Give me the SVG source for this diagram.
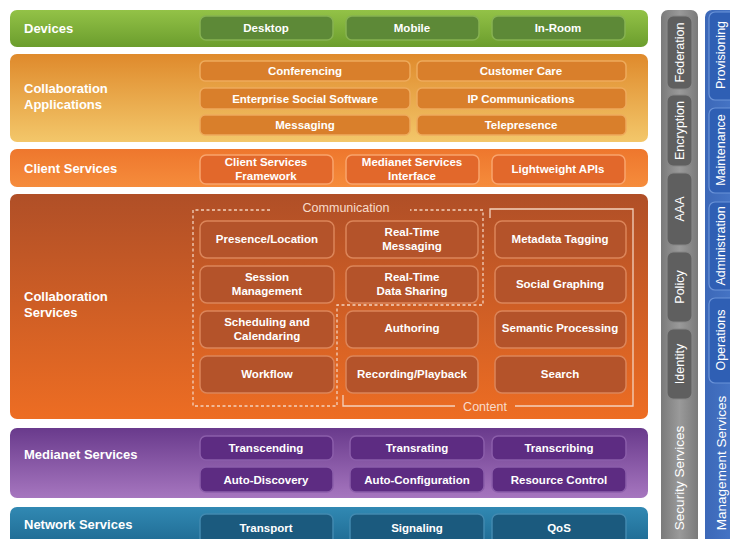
<svg xmlns="http://www.w3.org/2000/svg" width="730" height="539" viewBox="0 0 730 539">
<defs>
<linearGradient id="gDev" x1="0" y1="0" x2="0" y2="1"><stop offset="0" stop-color="#93c247"/><stop offset="1" stop-color="#6b9d2d"/></linearGradient>
<linearGradient id="gApp" x1="0" y1="0" x2="0" y2="1"><stop offset="0" stop-color="#df8a2c"/><stop offset="1" stop-color="#f3c76a"/></linearGradient>
<linearGradient id="gCli" x1="0" y1="0" x2="0" y2="1"><stop offset="0" stop-color="#ee772d"/><stop offset="1" stop-color="#f58c3c"/></linearGradient>
<linearGradient id="gCol" x1="0" y1="0" x2="0" y2="1"><stop offset="0" stop-color="#b04f27"/><stop offset="1" stop-color="#ed6d23"/></linearGradient>
<linearGradient id="gMed" x1="0" y1="0" x2="0" y2="1"><stop offset="0" stop-color="#693a8c"/><stop offset="1" stop-color="#a676bf"/></linearGradient>
<linearGradient id="gNet" x1="0" y1="0" x2="0" y2="1"><stop offset="0" stop-color="#3189b3"/><stop offset="1" stop-color="#1d6890"/></linearGradient>
<linearGradient id="gSec" x1="0" y1="0" x2="1" y2="0"><stop offset="0" stop-color="#7a7a7a"/><stop offset="0.5" stop-color="#9a9a9a"/><stop offset="1" stop-color="#7a7a7a"/></linearGradient>
<linearGradient id="gMan" x1="0" y1="0" x2="1" y2="0"><stop offset="0" stop-color="#3c68b8"/><stop offset="1" stop-color="#4a7acb"/></linearGradient>
</defs>
<style>
.lbl{font-family:"Liberation Sans",Arial,sans-serif;font-weight:bold;font-size:13px;fill:#fff}
.bt{font-family:"Liberation Sans",Arial,sans-serif;font-weight:bold;font-size:11.5px;fill:#fff;text-anchor:middle;dominant-baseline:central}
.vt{font-family:"Liberation Sans",Arial,sans-serif;font-size:12.5px;fill:#fff;text-anchor:middle;dominant-baseline:central}
.vl{font-family:"Liberation Sans",Arial,sans-serif;font-size:13.5px;fill:#fff;text-anchor:middle;dominant-baseline:central}
.gt{font-family:"Liberation Sans",Arial,sans-serif;font-size:12.5px;fill:#f8dccb;text-anchor:middle;dominant-baseline:central}
.dev{fill:#5d8937;stroke:#86b251;stroke-width:1.5}
.app{fill:#d97f2b;stroke:#eeab5c;stroke-width:1.5}
.cli{fill:#e2682b;stroke:#f9a46c;stroke-width:1.5}
.col{fill:#b4532a;stroke:#dc8559;stroke-width:1.5}
.med{fill:#5d2c82;stroke:#8b5daa;stroke-width:1.5}
.net{fill:#1b5a7e;stroke:#4289b0;stroke-width:1.5}
.sec{fill:#5f5f5f;stroke:#868686;stroke-width:1.2}
.man{fill:#2f5fb4;stroke:#6a93d8;stroke-width:1.2}
.dash{fill:none;stroke:#f3d2bd;stroke-width:1.3;stroke-dasharray:3 2.5}
.solid{fill:none;stroke:#f3d2bd;stroke-width:1.3}
</style>
<rect width="730" height="539" fill="#fff"/>

<g id="devices">
<rect x="10" y="10" width="638" height="37" rx="7" fill="url(#gDev)"/>
<text class="lbl" x="24" y="33">Devices</text>
<rect class="dev" x="200" y="16" width="133" height="24" rx="6"/><text class="bt" x="266" y="28">Desktop</text>
<rect class="dev" x="346" y="16" width="133" height="24" rx="6"/><text class="bt" x="412" y="28">Mobile</text>
<rect class="dev" x="492" y="16" width="133" height="24" rx="6"/><text class="bt" x="558" y="28">In-Room</text>
</g>

<g id="collab-apps">
<rect x="10" y="54" width="638" height="88" rx="7" fill="url(#gApp)"/>
<text class="lbl" x="24" y="93">Collaboration</text>
<text class="lbl" x="24" y="109">Applications</text>
<rect class="app" x="200" y="61" width="210" height="20" rx="5"/><text class="bt" x="305" y="71">Conferencing</text>
<rect class="app" x="417" y="61" width="209" height="20" rx="5"/><text class="bt" x="521" y="71">Customer Care</text>
<rect class="app" x="200" y="88" width="210" height="21" rx="5"/><text class="bt" x="305" y="99">Enterprise Social Software</text>
<rect class="app" x="417" y="88" width="209" height="21" rx="5"/><text class="bt" x="521" y="99">IP Communications</text>
<rect class="app" x="200" y="115" width="210" height="20" rx="5"/><text class="bt" x="305" y="125">Messaging</text>
<rect class="app" x="417" y="115" width="209" height="20" rx="5"/><text class="bt" x="521" y="125">Telepresence</text>
</g>

<g id="client-services">
<rect x="10" y="149" width="638" height="38" rx="7" fill="url(#gCli)"/>
<text class="lbl" x="24" y="173">Client Services</text>
<rect class="cli" x="200" y="155" width="133" height="29" rx="6"/><text class="bt" x="266" y="162">Client Services</text><text class="bt" x="266" y="176">Framework</text>
<rect class="cli" x="346" y="155" width="133" height="29" rx="6"/><text class="bt" x="412" y="162">Medianet Services</text><text class="bt" x="412" y="176">Interface</text>
<rect class="cli" x="492" y="155" width="133" height="29" rx="6"/><text class="bt" x="558" y="169">Lightweight APIs</text>
</g>

<g id="collab-services">
<rect x="10" y="194" width="638" height="225" rx="7" fill="url(#gCol)"/>
<text class="lbl" x="24" y="301">Collaboration</text>
<text class="lbl" x="24" y="317">Services</text>
<rect class="col" x="200" y="221" width="134" height="37" rx="7"/><text class="bt" x="267" y="239">Presence/Location</text>
<rect class="col" x="346" y="221" width="132" height="37" rx="7"/><text class="bt" x="412" y="232">Real-Time</text><text class="bt" x="412" y="246">Messaging</text>
<rect class="col" x="495" y="221" width="131" height="37" rx="7"/><text class="bt" x="560" y="239">Metadata Tagging</text>
<rect class="col" x="200" y="266" width="134" height="37" rx="7"/><text class="bt" x="267" y="277">Session</text><text class="bt" x="267" y="291">Management</text>
<rect class="col" x="346" y="266" width="132" height="37" rx="7"/><text class="bt" x="412" y="277">Real-Time</text><text class="bt" x="412" y="291">Data Sharing</text>
<rect class="col" x="495" y="266" width="131" height="37" rx="7"/><text class="bt" x="560" y="284">Social Graphing</text>
<rect class="col" x="200" y="311" width="134" height="37" rx="7"/><text class="bt" x="267" y="322">Scheduling and</text><text class="bt" x="267" y="336">Calendaring</text>
<rect class="col" x="346" y="311" width="132" height="37" rx="7"/><text class="bt" x="412" y="328">Authoring</text>
<rect class="col" x="495" y="311" width="131" height="37" rx="7"/><text class="bt" x="560" y="328">Semantic Processing</text>
<rect class="col" x="200" y="356" width="134" height="37" rx="7"/><text class="bt" x="267" y="374">Workflow</text>
<rect class="col" x="346" y="356" width="132" height="37" rx="7"/><text class="bt" x="412" y="374">Recording/Playback</text>
<rect class="col" x="495" y="356" width="131" height="37" rx="7"/><text class="bt" x="560" y="374">Search</text>
</g>

<g id="connectors">
<path class="dash" d="M270,210 H193 V406 H337 V305 H483 V210 H410"/>
<text class="gt" x="346" y="208">Communication</text>
<path class="solid" d="M490,218 V209 H633 V406 H515 M455,406 H343 V395"/>
<text class="gt" x="485" y="407">Content</text>
</g>

<g id="medianet-services">
<rect x="10" y="428" width="638" height="70" rx="7" fill="url(#gMed)"/>
<text class="lbl" x="24" y="459">Medianet Services</text>
<rect class="med" x="200" y="436" width="133" height="24" rx="6"/><text class="bt" x="266" y="448">Transcending</text>
<rect class="med" x="350" y="436" width="134" height="24" rx="6"/><text class="bt" x="417" y="448">Transrating</text>
<rect class="med" x="492" y="436" width="134" height="24" rx="6"/><text class="bt" x="559" y="448">Transcribing</text>
<rect class="med" x="200" y="467" width="133" height="25" rx="6"/><text class="bt" x="266" y="480">Auto-Discovery</text>
<rect class="med" x="350" y="467" width="134" height="25" rx="6"/><text class="bt" x="417" y="480">Auto-Configuration</text>
<rect class="med" x="492" y="467" width="134" height="25" rx="6"/><text class="bt" x="559" y="480">Resource Control</text>
</g>

<g id="network-services">
<rect x="10" y="507" width="638" height="40" rx="7" fill="url(#gNet)"/>
<text class="lbl" x="24" y="529">Network Services</text>
<rect class="net" x="200" y="514" width="133" height="30" rx="6"/><text class="bt" x="266" y="528">Transport</text>
<rect class="net" x="350" y="514" width="134" height="30" rx="6"/><text class="bt" x="417" y="528">Signaling</text>
<rect class="net" x="492" y="514" width="134" height="30" rx="6"/><text class="bt" x="559" y="528">QoS</text>
</g>

<g id="security-services">
<rect x="661" y="10" width="37" height="540" rx="7" fill="url(#gSec)"/>
<rect class="sec" x="667" y="16" width="25" height="73" rx="6"/><text class="vt" transform="translate(679.5,52.5) rotate(-90)">Federation</text>
<rect class="sec" x="667" y="95" width="25" height="71" rx="6"/><text class="vt" transform="translate(679.5,130.5) rotate(-90)">Encryption</text>
<rect class="sec" x="667" y="173" width="25" height="72" rx="6"/><text class="vt" transform="translate(679.5,209) rotate(-90)">AAA</text>
<rect class="sec" x="667" y="252" width="25" height="70" rx="6"/><text class="vt" transform="translate(679.5,287) rotate(-90)">Policy</text>
<rect class="sec" x="667" y="329" width="25" height="70" rx="6"/><text class="vt" transform="translate(679.5,364) rotate(-90)">Identity</text>
<text class="vl" transform="translate(679.5,478) rotate(-90)">Security Services</text>
</g>

<g id="management-services">
<rect x="705" y="10" width="40" height="540" rx="7" fill="url(#gMan)"/>
<rect class="man" x="709" y="12" width="30" height="88" rx="6"/><text class="vt" transform="translate(721,55) rotate(-90)">Provisioning</text>
<rect class="man" x="709" y="108" width="30" height="85" rx="6"/><text class="vt" transform="translate(721,150) rotate(-90)">Maintenance</text>
<rect class="man" x="709" y="202" width="30" height="88" rx="6"/><text class="vt" transform="translate(721,246) rotate(-90)">Administration</text>
<rect class="man" x="709" y="298" width="30" height="85" rx="6"/><text class="vt" transform="translate(721,340) rotate(-90)">Operations</text>
<text class="vl" transform="translate(721,463) rotate(-90)">Management Services</text>
</g>
</svg>
